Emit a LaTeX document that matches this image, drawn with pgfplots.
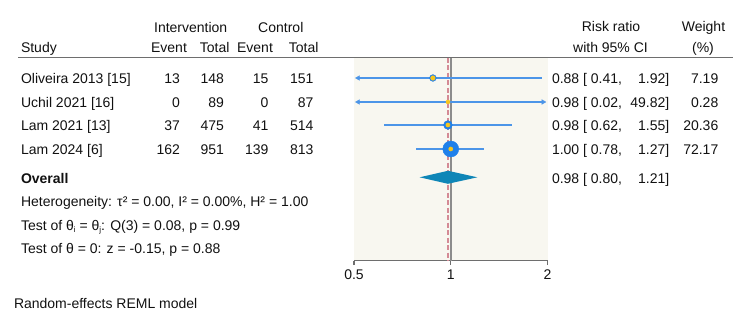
\documentclass[border=0pt]{standalone}
\usepackage{fontspec}
\setmainfont{Liberation Sans}
\usepackage{pgfplots}
\pgfplotsset{compat=1.18}
\definecolor{bgc}{HTML}{F8F7F0}
\definecolor{cicol}{HTML}{4C95E8}
\definecolor{mblue}{HTML}{1F80EA}
\definecolor{myel}{HTML}{F7C61D}
\definecolor{dcol}{HTML}{0F86B7}
\definecolor{rdash}{HTML}{D48A95}
\definecolor{gline}{HTML}{8C8C8C}
\definecolor{hline}{HTML}{6E6E6E}
\definecolor{txt}{HTML}{111111}
\newcommand{\row}[9]{%
  \node[anchor=base west] at (21,-#1) {#2};
  \node[anchor=base east] at (180,-#1) {#3};
  \node[anchor=base east] at (224,-#1) {#4};
  \node[anchor=base east] at (268.5,-#1) {#5};
  \node[anchor=base east] at (313.5,-#1) {#6};
  \node[anchor=base west] at (552,-#1) {#7};
  \node[anchor=base east] at (669.3,-#1) {#8};
  \node[anchor=base east] at (718.3,-#1) {#9};}
\begin{document}
\begin{tikzpicture}[x=1pt,y=1pt,font=\fontsize{14}{17}\selectfont, every node/.style={text=txt, inner sep=0pt, outer sep=0pt}]
\path[use as bounding box] (0,0) rectangle (750,-323);
\begin{axis}[
  at={(354pt,-260.7pt)}, anchor=south west,
  scale only axis, width=193.5pt, height=203pt,
  xmode=log, log basis x=2, xmin=0.5, xmax=2,
  ymin=-260.7, ymax=-57.7,
  axis y line=none, axis x line*=bottom,
  axis line style={-, hline, line width=1.3pt},
  tick align=outside, major tick length=4.5pt,
  tick style={hline, line width=1.3pt},
  xtick={0.5,1,2}, xticklabels={{0.5},{1},{2}},
  xticklabel style={font=\fontsize{14}{17}\selectfont, text=txt, inner sep=0pt, anchor=base, yshift=-14pt},
  ytick=\empty, minor xtick={},
  axis background/.style={fill=bgc},
  clip=false,
]
% reference lines
\addplot[gline, line width=1.9pt] coordinates {(1,-57.7) (1,-260.7)};
\addplot[rdash, line width=1.6pt, dash pattern=on 5pt off 2.5pt] coordinates {(0.98,-57.7) (0.98,-260.7)};
% confidence intervals
\addplot[cicol, line width=1.9pt] coordinates {(0.52,-78) (1.92,-78)};
\addplot[cicol, line width=1.6pt] coordinates {(0.52,-102) (1.93,-102)};
\addplot[cicol, line width=1.8pt] coordinates {(0.62,-125) (1.55,-125)};
\addplot[cicol, line width=1.9pt] coordinates {(0.78,-149) (1.27,-149)};
% arrow heads where the interval runs beyond the axis
\addplot[only marks, mark=triangle*, mark size=2.6pt, cicol, mark options={rotate=90}] coordinates {(0.515,-78) (0.515,-102)};
\addplot[only marks, mark=triangle*, mark size=2.6pt, cicol, mark options={rotate=-90}] coordinates {(1.94,-102)};
% weight markers
\addplot[only marks, mark=*, mark size=3.4pt, mblue] coordinates {(0.88,-78)};
\addplot[only marks, mark=*, mark size=4.4pt, mblue] coordinates {(0.98,-125)};
\addplot[only marks, mark=*, mark size=8pt, mblue] coordinates {(1.00,-149)};
% point estimates
\addplot[only marks, mark=*, mark size=2.3pt, myel] coordinates {(0.88,-78)};
\addplot[only marks, mark=*, mark size=2pt, myel] coordinates {(0.98,-102)};
\addplot[only marks, mark=*, mark size=2.1pt, myel] coordinates {(0.98,-125)};
\addplot[only marks, mark=*, mark size=2.1pt, myel] coordinates {(1.00,-149)};
% overall diamond
\addplot[fill=dcol, draw=none] coordinates {(0.80,-177.3) (0.98,-170.8) (1.21,-177.3) (0.98,-183.8)} -- cycle;
\end{axis}
% header line
\draw[hline, line width=1.7pt] (18.3,-57.5) -- (732.5,-57.5);
% headers
\node[anchor=base] at (190.7,-32.5) {Intervention};
\node[anchor=base] at (280.8,-32.5) {Control};
\node[anchor=base west] at (21,-52.5) {Study};
\node[anchor=base] at (169,-52.5) {Event};
\node[anchor=base] at (214.6,-52.5) {Total};
\node[anchor=base] at (255,-52.5) {Event};
\node[anchor=base] at (303.7,-52.5) {Total};
\node[anchor=base] at (611,-32) {Risk ratio};
\node[anchor=base] at (610.5,-52.5) {with 95\% CI};
\node[anchor=base] at (703.5,-32) {Weight};
\node[anchor=base] at (703,-52.5) {(\%)};
% rows
\row{84}{Oliveira 2013 [15]}{13}{148}{15}{151}{0.88 [ 0.41,}{1.92]}{7.19}
\row{107.3}{Uchil 2021 [16]}{0}{89}{0}{87}{0.98 [ 0.02,}{49.82]}{0.28}
\row{131}{Lam 2021 [13]}{37}{475}{41}{514}{0.98 [ 0.62,}{1.55]}{20.36}
\row{155}{Lam 2024 [6]}{162}{951}{139}{813}{1.00 [ 0.78,}{1.27]}{72.17}
\node[anchor=base west] at (21,-183.7) {\textbf{Overall}};
\node[anchor=base west] at (552,-183.7) {0.98 [ 0.80,};
\node[anchor=base east] at (669.3,-183.7) {1.21]};
\node[anchor=base west] at (21,-206.7) {Heterogeneity: τ² = 0.00, I² = 0.00\%, H² = 1.00};
\node[anchor=base west] at (21,-230.3) {Test of θ\raisebox{-2.5pt}{\fontsize{8}{8}\selectfont i} = θ\raisebox{-2.5pt}{\fontsize{8}{8}\selectfont j}: Q(3) = 0.08, p = 0.99};
\node[anchor=base west] at (21,-253.5) {Test of θ = 0: z = -0.15, p = 0.88};
\node[anchor=base west] at (14,-308.3) {Random-effects REML model};
\end{tikzpicture}
\end{document}
